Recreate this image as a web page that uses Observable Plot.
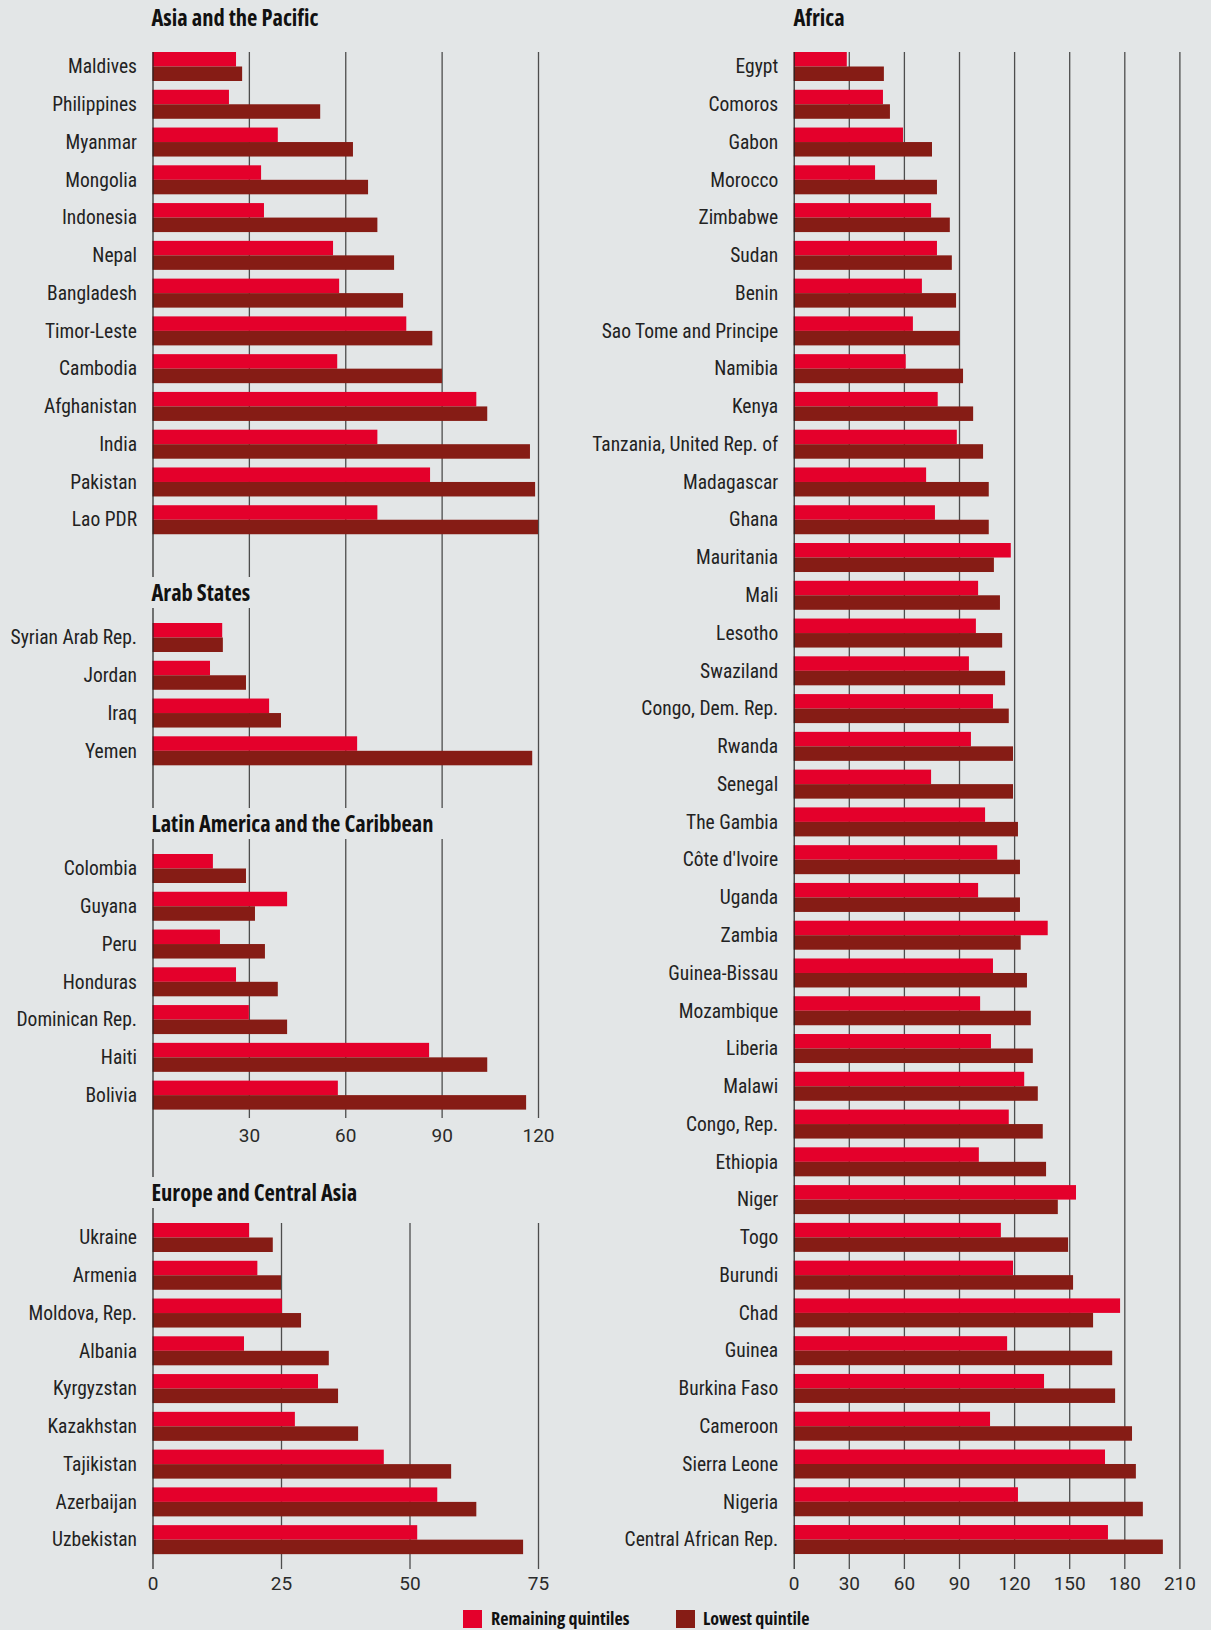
<!DOCTYPE html>
<html>
<head>
<meta charset="utf-8">
<script src="https://cdn.jsdelivr.net/npm/d3@7"></script>
<script src="https://cdn.jsdelivr.net/npm/@observablehq/plot@0.6"></script>
<style>
  html, body { margin: 0; padding: 0; background: #e3e6e7; }
  #page { position: relative; width: 1211px; height: 1630px; background: #e3e6e7; overflow: hidden; }
  .panel { position: absolute; }
  .title { position: absolute; height: 30px; line-height: 29px; padding: 1px 10px 0 1.5px;
           background: #e3e6e7; white-space: nowrap; color: #111;
           font-family: "Open Sans", sans-serif; font-stretch: condensed;
           font-weight: 700; font-size: 22.5px; z-index: 5; }
  .panel g[aria-label^="x-axis"] text, .panel g[aria-label^="x-axis"] {
    font-family: Roboto, sans-serif; font-stretch: normal; font-weight: 400; font-size: 19px; fill: #2a2a2a; }
  .legend-sw { position: absolute; width: 19px; height: 18px; }
  .legend-tx { position: absolute; line-height: 20px; white-space: nowrap; color: #111;
               font-family: "Open Sans", sans-serif; font-stretch: condensed; font-weight: 700; font-size: 18px; }
</style>
</head>
<body>
<div id="page"></div>
<script>
// ---------------- data ----------------
const seriesNames = ["Remaining quintiles", "Lowest quintile"];

const asiaCountries = ["Maldives","Philippines","Myanmar","Mongolia","Indonesia","Nepal","Bangladesh","Timor-Leste","Cambodia","Afghanistan","India","Pakistan","Lao PDR"];
const asiaRemaining = [26.0, 23.8, 39.0, 33.8, 34.7, 56.2, 58.1, 79.0, 57.5, 100.8, 70.0, 86.4, 70.0];
const asiaLowest    = [27.9, 52.2, 62.4, 67.1, 70.0, 75.2, 78.0, 87.1, 90.1, 104.2, 117.5, 119.1, 120.0];

const arabCountries = ["Syrian Arab Rep.","Jordan","Iraq","Yemen"];
const arabRemaining = [21.7, 17.9, 36.3, 63.7];
const arabLowest    = [21.9, 29.1, 40.0, 118.2];

const latamCountries = ["Colombia","Guyana","Peru","Honduras","Dominican Rep.","Haiti","Bolivia"];
const latamRemaining = [18.8, 41.9, 21.0, 26.0, 30.0, 86.1, 57.7];
const latamLowest    = [29.1, 31.9, 35.0, 39.0, 41.9, 104.2, 116.3];

const europeCountries = ["Ukraine","Armenia","Moldova, Rep.","Albania","Kyrgyzstan","Kazakhstan","Tajikistan","Azerbaijan","Uzbekistan"];
const europeRemaining = [18.8, 20.4, 25.2, 17.8, 32.2, 27.7, 45.0, 55.4, 51.5];
const europeLowest    = [23.4, 25.0, 28.9, 34.3, 36.1, 40.0, 58.1, 63.0, 72.1];

const africaCountries = ["Egypt","Comoros","Gabon","Morocco","Zimbabwe","Sudan","Benin","Sao Tome and Principe","Namibia","Kenya","Tanzania, United Rep. of","Madagascar","Ghana","Mauritania","Mali","Lesotho","Swaziland","Congo, Dem. Rep.","Rwanda","Senegal","The Gambia","Côte d'Ivoire","Uganda","Zambia","Guinea-Bissau","Mozambique","Liberia","Malawi","Congo, Rep.","Ethiopia","Niger","Togo","Burundi","Chad","Guinea","Burkina Faso","Cameroon","Sierra Leone","Nigeria","Central African Rep."];
const africaRemaining = [28.9,48.6,59.5,44.3,74.8,78.0,69.8,64.9,61.0,78.4,88.8,72.1,76.9,118.2,100.4,99.2,95.4,108.5,96.5,74.8,104.2,110.8,100.4,138.3,108.5,101.5,107.4,125.5,117.1,100.8,153.7,112.8,119.4,177.7,116.2,136.3,106.9,169.5,122.1,171.1];
const africaLowest    = [49.1,52.4,75.3,78.0,85.0,86.1,88.4,90.4,92.2,97.7,103.1,106.2,106.2,109.0,112.3,113.5,115.1,117.1,119.4,119.4,122.1,123.2,123.2,123.6,127.0,129.1,130.2,132.9,135.6,137.4,143.8,149.4,152.1,163.0,173.4,175.0,184.2,186.3,190.1,201.0];

const leftGridTicks    = [30, 60, 90, 120];
const latamTickLabels  = [30, 60, 90, 120];
const europeGridTicks  = [25, 50, 75];
const europeTickLabels = [0, 25, 50, 75];
const africaGridTicks  = [30, 60, 90, 120, 150, 180, 210];
const africaTickLabels = [0, 30, 60, 90, 120, 150, 180, 210];

// ---------------- style ----------------
const RED = "#e4002b";
const DARK = "#861c15";
const GRID = "#4d4d4d";
const AXIS = "#222222";
const LABEL_FONT = 'Roboto, sans-serif';
const STEP = 37.77;           // row pitch in px
const PAD = 8.77 / STEP;      // inner band padding
const HALF = STEP * (1 - PAD) / 2;

const page = document.getElementById("page");

function panel(o) {
  const rows = o.countries.map((c, i) => ({country: c, remaining: o.remaining[i], lowest: o.lowest[i]}));
  const n = rows.length;
  const bandTop = o.marginTop + o.bandOffset;
  const chart = Plot.plot({
    width: o.width,
    height: o.height,
    marginLeft: o.marginLeft,
    marginRight: o.marginRight,
    marginTop: o.marginTop,
    marginBottom: o.marginBottom,
    style: {background: "transparent", overflow: "visible", fontFamily: LABEL_FONT, fontStretch: "condensed",
            fontSize: "19.5px", color: "#222"},
    x: {domain: [0, o.xMax], axis: o.tickLabels ? "bottom" : null, ticks: o.tickLabels || [], tickSize: 0,
        tickPadding: o.tickPadding || 8, tickFormat: d => String(d), label: null},
    y: {domain: o.countries, range: [bandTop, bandTop + (n - PAD) * STEP], paddingInner: PAD, paddingOuter: 0,
        round: false, axis: "left", tickSize: 0, tickPadding: 16, label: null},
    marks: [
      Plot.ruleX(o.grid, {stroke: GRID, strokeWidth: 1.3}),
      Plot.barX(rows, {x: "remaining", y: "country", fill: RED, insetBottom: HALF}),
      Plot.barX(rows, {x: "lowest", y: "country", fill: DARK, insetTop: HALF}),
      Plot.ruleX([0], {stroke: AXIS, strokeWidth: 1.2, insetTop: -(o.axisExtTop || 0), insetBottom: -(o.axisExtBottom || 0)})
    ]
  });
  const div = document.createElement("div");
  div.className = "panel";
  div.style.left = o.left + "px";
  div.style.top = o.top + "px";
  div.appendChild(chart);
  page.appendChild(div);
}

// left column: x from 152.5 to 538; Africa: 793.7 to 1179.4
panel({countries: asiaCountries, remaining: asiaRemaining, lowest: asiaLowest, xMax: 120, grid: leftGridTicks,
       left: 0, top: 42, width: 560, height: 551, marginLeft: 152.5, marginRight: 22, marginTop: 10, marginBottom: 0, bandOffset: 0});
panel({countries: arabCountries, remaining: arabRemaining, lowest: arabLowest, xMax: 120, grid: leftGridTicks,
       left: 0, top: 583, width: 560, height: 241, marginLeft: 152.5, marginRight: 22, marginTop: 10, marginBottom: 0, bandOffset: 30});
panel({countries: latamCountries, remaining: latamRemaining, lowest: latamLowest, xMax: 120, grid: leftGridTicks,
       tickLabels: latamTickLabels, tickPadding: 10,
       left: 0, top: 814, width: 560, height: 374, marginLeft: 152.5, marginRight: 22, marginTop: 10, marginBottom: 70, bandOffset: 30,
       axisExtBottom: 59});
panel({countries: europeCountries, remaining: europeRemaining, lowest: europeLowest, xMax: 75, grid: europeGridTicks,
       tickLabels: europeTickLabels, tickPadding: 7,
       left: 0, top: 1203, width: 560, height: 400, marginLeft: 152.5, marginRight: 22, marginTop: 20, marginBottom: 34, bandOffset: 0,
       axisExtTop: 15});
panel({countries: africaCountries, remaining: africaRemaining, lowest: africaLowest, xMax: 210, grid: africaGridTicks,
       tickLabels: africaTickLabels, tickPadding: 7,
       left: 560, top: 42, width: 651, height: 1561, marginLeft: 233.7, marginRight: 31.6, marginTop: 10, marginBottom: 34, bandOffset: 0});

// titles
function title(text, left, top) {
  const d = document.createElement("div");
  d.className = "title";
  d.textContent = text;
  d.style.left = left + "px";
  d.style.top = top + "px";
  page.appendChild(d);
}
title("Asia and the Pacific", 150, 2);
title("Arab States", 150, 577);
title("Latin America and the Caribbean", 150, 808);
title("Europe and Central Asia", 150, 1177);
title("Africa", 792, 2);

// legend
const legendColors = [RED, DARK];
const legendSwatchX = [463, 676];
const legendTextX = [491, 703];
seriesNames.forEach((name, i) => {
  const sw = document.createElement("div");
  sw.className = "legend-sw";
  sw.style.left = legendSwatchX[i] + "px";
  sw.style.top = "1610px";
  sw.style.background = legendColors[i];
  page.appendChild(sw);
  const tx = document.createElement("div");
  tx.className = "legend-tx";
  tx.textContent = name;
  tx.style.left = legendTextX[i] + "px";
  tx.style.top = "1608px";
  page.appendChild(tx);
});
</script>
</body>
</html>
